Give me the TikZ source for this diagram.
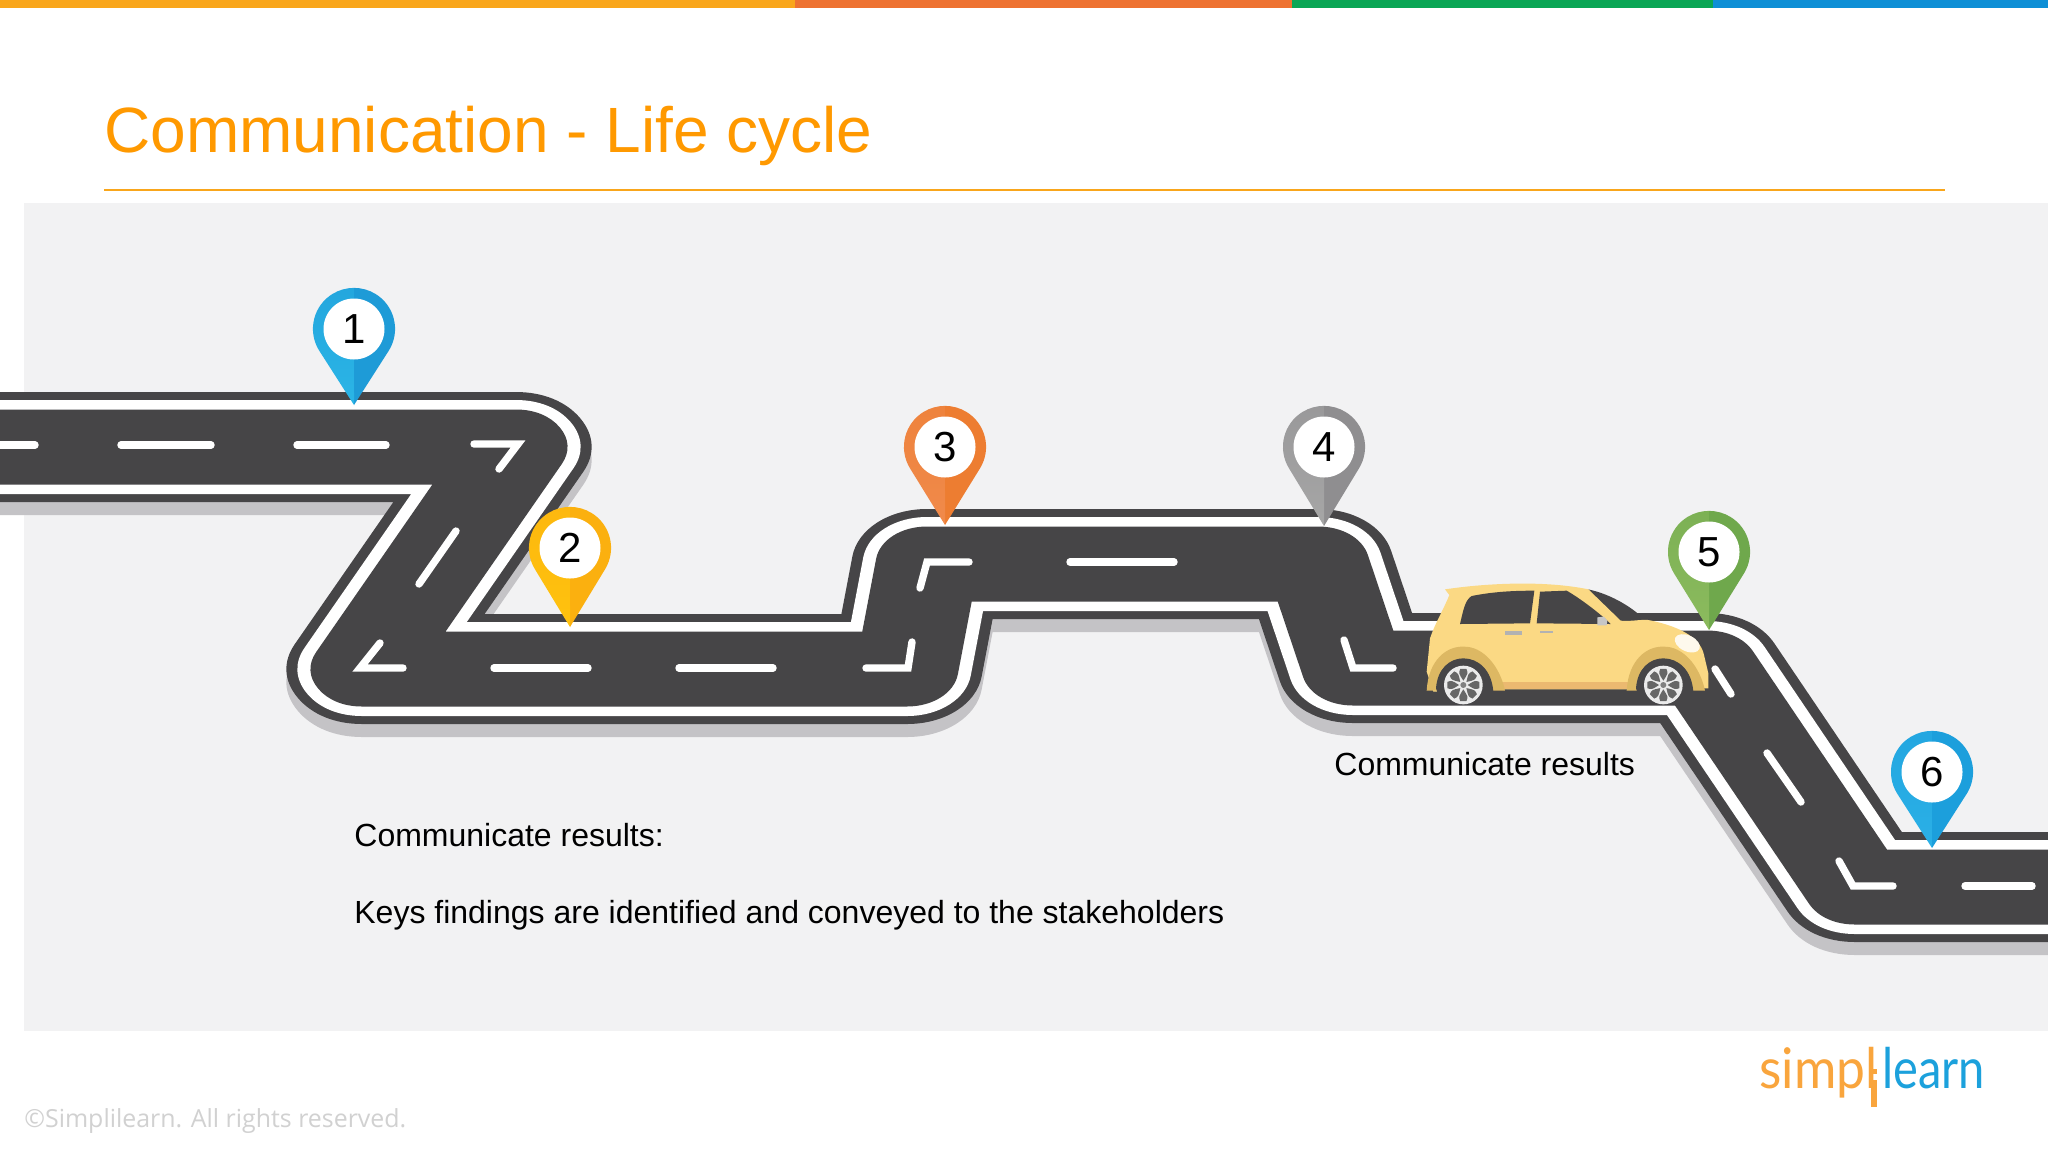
\documentclass[tikz,border=0pt]{standalone}
\usepackage{fontspec}
\setmainfont{Liberation Sans}
\newfontfamily\footfont{Open Sans}
\newfontfamily\logofont{Lato}
\definecolor{barA}{HTML}{F9A61B}
\definecolor{barB}{HTML}{EE7231}
\definecolor{barC}{HTML}{0AA655}
\definecolor{barD}{HTML}{0E8FD6}
\definecolor{panel}{HTML}{F2F2F3}
\definecolor{asphalt}{HTML}{464547}
\definecolor{roadshadow}{HTML}{C4C3C6}
\definecolor{titlecol}{HTML}{FF9900}
\definecolor{carbody}{HTML}{FBD984}
\definecolor{cararch}{HTML}{DDB863}
\definecolor{carsill}{HTML}{EBB970}
\definecolor{logoA}{HTML}{F9A53D}
\definecolor{logoB}{HTML}{1CA1DC}
\tikzset{
  lane/.style={draw=white,line width=3.7pt,line cap=round,line join=miter},
  pintext/.style={font=\fontsize{21}{21}\selectfont,text=black,inner sep=0pt},
  bodytext/.style={font=\fontsize{16}{16}\selectfont,text=black,anchor=base west,inner sep=0pt}
}
\def\roadline{(-30,447)--(516,447)--(362,669)--(907,669)--(927,564)--(1318,564)--(1353,668)--(1707,668)--(1855,887)--(2100,887)}
\begin{document}
\begin{tikzpicture}[x=.5pt,y=-.5pt]
\useasboundingbox (0,0) rectangle (2048,1152);
\fill[white] (0,0) rectangle (2048,1152);
% top bar
\fill[barA] (0,0) rectangle (795,8);
\fill[barB] (795,0) rectangle (1292,8);
\fill[barC] (1292,0) rectangle (1713,8);
\fill[barD] (1713,0) rectangle (2048,8);
\node[anchor=base west,inner sep=0pt,text=titlecol,font=\fontsize{32}{32}\selectfont] (title) at (104,152) {Communication - Life cycle};
\draw[barA,line width=.8pt] (104,190)--(1945,190);
\fill[panel] (24,203) rectangle (2048,1031);
% road, stretched sideways
\begin{scope}[transform canvas={xscale=1.37},x=.36496pt,line join=round]
\draw[roadshadow,line width=55pt,yshift=-6.5pt] \roadline;
\draw[asphalt,line width=55pt] \roadline;
\draw[white,line width=47pt] \roadline;
\draw[asphalt,line width=37.5pt] \roadline;
\end{scope}
% lane marks
\draw[lane] (0,445)--(35,445);
\draw[lane] (121,445)--(211,445);
\draw[lane] (297,445)--(386,445);
\draw[lane] (474,444)--(518,444)--(499,469);
\draw[lane] (456,531)--(419,584);
\draw[lane] (380,643)--(360,668)--(403,668);
\draw[lane] (494,668)--(588,668);
\draw[lane] (679,668)--(773,668);
\draw[lane] (866,668)--(908,668)--(912,642);
\draw[lane] (920,588)--(927,562)--(969,562);
\draw[lane] (1070,562)--(1174,562);
\draw[lane] (1344,640)--(1353,668)--(1393,668);
\draw[lane] (1715,669)--(1731,694);
\draw[lane] (1767,753)--(1801,802);
\draw[lane] (1839,861)--(1853,886)--(1893,886);
\draw[lane] (1965,886)--(2032,886);
% car
\begin{scope}[shift={(1380,560)},scale=1/3]
\fill[asphalt] (625,88) .. controls (700,105) and (760,145) .. (795,180)--(700,190)--cycle;
\fill[carbody] (195,88) .. controls (330,68) and (500,62) .. (625,88)--(722,182)
  .. controls (750,185) and (780,178) .. (805,180) .. controls (880,195) and (960,225) .. (972,285)
  --(985,340)--(985,385)--(760,388)--(340,388)--(160,395)--(140,335)--(150,235) .. controls (165,190) and (190,150) .. (208,105)--cycle;
\fill[carsill] (345,365)--(770,365)--(770,386)--(345,386)--cycle;
\foreach \wx in {250,850}{
  \fill[cararch] ({\wx-110},392) .. controls ({\wx-105},300) and ({\wx-50},258) .. (\wx,260)
    .. controls ({\wx+60},258) and ({\wx+110},320) .. ({\wx+125},392)--cycle;
  \fill[asphalt] ({\wx-82},385) .. controls ({\wx-78},325) and ({\wx-40},295) .. (\wx,295)
    .. controls ({\wx+45},295) and ({\wx+85},330) .. ({\wx+90},395)--({\wx+70},420)--({\wx-70},420)--cycle;
  \begin{scope}[shift={(\wx,375)}]
  \fill[white!92!black] (0,0) circle (58);
  \foreach \a in {0,45,...,315}
    \fill[gray!80!black] (\a:13) .. controls (\a-22:38) .. (\a-11:49)--(\a+11:49) .. controls (\a+22:38) .. (\a:13);
  \fill[gray] (0,0) circle (9);
  \end{scope}
}
\fill[asphalt] (240,192) .. controls (250,150) and (255,120) .. (275,108) .. controls (340,95) and (400,92) .. (463,92)--(450,190)--cycle;
\fill[asphalt] (480,95)--(560,92) .. controls (600,115) and (660,160) .. (692,192)--(470,190)--cycle;
\fill[gray!45] (652,172)--(672,170)--(682,182)--(680,196)--(652,196)--cycle;
\fill[gray!60] (375,213) rectangle (425,224);
\fill[gray!60] (480,214) rectangle (520,219);
\fill[white!85!carbody,rotate around={-25:(922,250)}] (922,250) ellipse (40 and 24);
\end{scope}
% map pins
\foreach \n/\cx/\cy/\tip/\colA/\colB in {1/354/329/405/2BB5E6/1E9BD7,2/570/548/627/FFC20E/FBB00F,3/945/447/525/F08A4B/ED7D31,4/1324/447/526/A6A6A6/8F8E90,5/1709/552/630/8CBB5E/6FA84C,6/1932/772/848/2BB0E6/1C9FDC}{
  \definecolor{pinA}{HTML}{\colA}
  \definecolor{pinB}{HTML}{\colB}
  \fill[pinB] (\cx,\tip)--({\cx+35.2},{\cy+21}) arc (31:-90:41)--cycle;
  \shade[top color=pinA!45!pinB,bottom color=pinA] (\cx,\tip)--({\cx-35.2},{\cy+21}) arc (149:270:41)--cycle;
  \fill[white] (\cx,\cy) circle (30.5);
  \node[pintext] (pin\n) at (\cx,\cy) {\n};
}
% texts
\node[bodytext] (carlabel) at (1334,775) {Communicate results};
\node[bodytext] (head) at (354,846) {Communicate results:};
\node[bodytext] (findings) at (354,923) {Keys findings are identified and conveyed to the stakeholders};
\node[anchor=base west,inner sep=0pt,text=black!18,font=\footfont\fontsize{12.45}{13}\selectfont] (rights) at (24,1127) {©Simplilearn. All rights reserved.};
% logo
\node[anchor=base west,inner sep=0pt,text=logoA,transform shape,xscale=.92,font=\logofont\fontsize{28}{28}\selectfont] (logosimpl) at (1759,1088) {simpl};
\node[anchor=base west,inner sep=0pt,text=logoB,transform shape,xscale=.84,font=\logofont\fontsize{28}{28}\selectfont] (logolearn) at (1882,1088) {learn};
\fill[logoA] (1871,1069) rectangle (1877,1074);
\fill[logoA] (1871,1080) rectangle (1877,1107);
\end{tikzpicture}
\end{document}
